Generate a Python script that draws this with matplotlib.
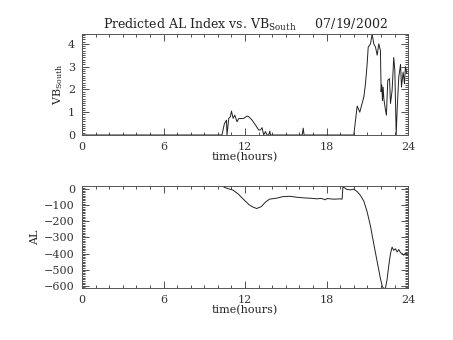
import matplotlib

matplotlib.use("Agg")
import matplotlib.pyplot as plt
from matplotlib.ticker import MultipleLocator

plt.rcParams["font.family"] = ["DejaVu Serif"]
plt.rcParams["axes.unicode_minus"] = True

# VB_South
vb_hours = [0.0, 10.3, 10.48, 10.63, 10.67, 10.8, 10.92, 11.0, 11.12, 11.24, 11.41,
            11.53, 11.66, 11.9, 12.15, 12.27, 12.52, 12.76, 13.0, 13.13, 13.25, 13.37,
            13.5, 13.62, 13.74, 13.82, 13.87, 16.2, 16.28, 16.34, 20.0, 20.25, 20.44,
            20.74, 20.86, 20.98, 21.06, 21.23, 21.35, 21.47, 21.6, 21.72, 21.84, 21.96,
            22.01, 22.06, 22.11, 22.16, 22.21, 22.33, 22.4, 22.5, 22.63, 22.7, 22.82,
            22.94, 23.02, 23.12, 23.19, 23.31, 23.44, 23.51, 23.63, 23.73, 23.8, 23.9]
vb_south = [0.0, 0.0, 0.5, 0.65, 0.0, 0.73, 0.8, 1.05, 0.73, 0.87, 0.58,
            0.72, 0.72, 0.73, 0.83, 0.8, 0.65, 0.44, 0.22, 0.22, 0.32, 0.0,
            0.15, 0.0, 0.0, 0.17, 0.0, 0.0, 0.3, 0.0, 0.0, 1.27, 1.0,
            1.67, 2.25, 3.1, 3.85, 4.0, 4.43, 4.0, 3.85, 3.5, 4.0, 3.7,
            1.9, 2.2, 1.5, 2.1, 1.6, 1.1, 0.87, 2.4, 2.47, 1.38, 1.96,
            3.4, 2.83, 0.0, 1.1, 2.54, 3.1, 2.1, 2.76, 2.25, 3.0, 2.7]

# predicted AL
al_hours = [10.45, 10.8, 11.1, 11.5, 11.8, 12.3, 12.6, 12.86, 13.2, 13.5, 13.8,
            14.3, 14.8, 15.3, 15.8, 16.3, 16.8, 17.3, 17.55, 17.8, 17.9, 18.04,
            18.28, 18.53, 19.0, 19.14, 19.2, 19.39, 19.5, 19.75, 20.0, 20.25,
            20.5, 20.74, 20.98, 21.23, 21.47, 21.72, 21.96, 22.1, 22.2, 22.33,
            22.45, 22.58, 22.7, 22.82, 22.94, 23.07, 23.19, 23.31, 23.44, 23.56,
            23.68, 23.8, 24.0]
al_index = [12, 2, -5, -30, -56, -97, -112, -120, -108, -80, -62,
            -56, -46, -44, -50, -54, -56, -60, -57, -62, -66, -58,
            -60, -62, -60, -62, 15, 4, -2, -4, 0, -15,
            -40, -75, -140, -230, -340, -450, -555, -605, -616, -616,
            -560, -470, -400, -360, -380, -370, -390, -375, -395, -400,
            -410, -398, -403]

x_ticks = [0, 6, 12, 18, 24]


def style_axis(ax):
    ax.set_xlim(0, 24)
    ax.set_xticks(x_ticks)
    ax.xaxis.set_minor_locator(MultipleLocator(1))
    ax.tick_params(which="both", direction="in", top=True, right=True,
                   labelsize=8, width=0.6, pad=5, colors="#333333")
    ax.tick_params(which="major", length=5)
    ax.tick_params(which="minor", length=2.5)
    for sp in ax.spines.values():
        sp.set_linewidth(0.7)
        sp.set_color("#555555")
    ax.set_xlabel("time(hours)", fontsize=8, labelpad=0, color="#222222")


fig = plt.figure(figsize=(4.53, 3.40), dpi=100)

ax1 = fig.add_axes([0.181, 0.603, 0.720, 0.297])
ax1.plot(vb_hours, vb_south, color="#222222", linewidth=0.7)
style_axis(ax1)
ax1.set_ylim(0, 4.43)
ax1.set_yticks([0, 1, 2, 3, 4])
ax1.yaxis.set_minor_locator(MultipleLocator(0.1))
ax1.set_ylabel("VB$_{\\mathregular{South}}$", fontsize=8, labelpad=2, color="#222222")
ax1.set_title("Predicted AL Index vs. VB$_{\\mathregular{South}}$     07/19/2002",
              fontsize=9, pad=4, color="#222222")

ax2 = fig.add_axes([0.181, 0.152, 0.720, 0.301])
ax2.plot(al_hours, al_index, color="#222222", linewidth=0.7)
style_axis(ax2)
ax2.set_ylim(-616, 20)
ax2.set_yticks([0, -100, -200, -300, -400, -500, -600])
ax2.yaxis.set_minor_locator(MultipleLocator(10))
ax2.set_ylabel("AL", fontsize=8, labelpad=3, color="#222222")

fig.savefig("out.png", dpi=100)
